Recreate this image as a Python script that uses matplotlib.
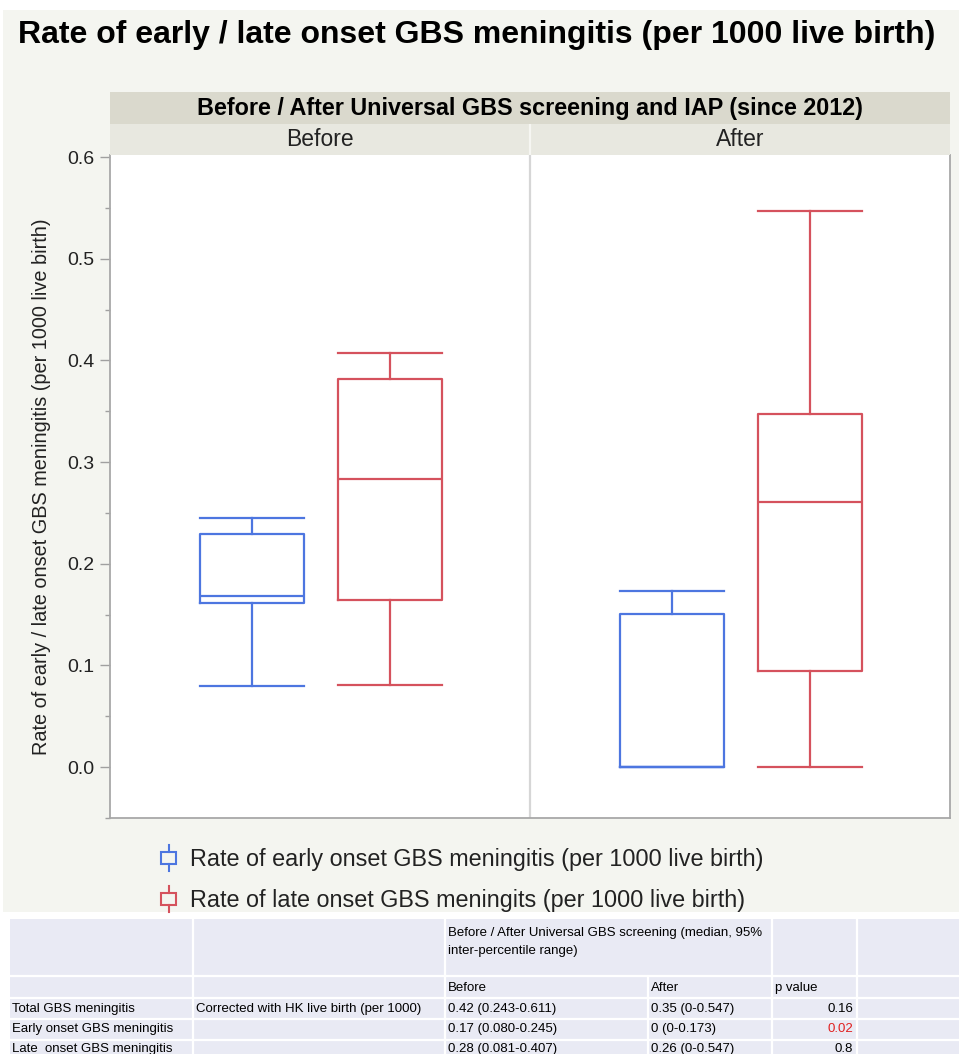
import matplotlib
matplotlib.use("Agg")
import matplotlib.pyplot as plt
from matplotlib.patches import Rectangle
from matplotlib.lines import Line2D
from matplotlib.legend_handler import HandlerBase
from matplotlib.ticker import MultipleLocator, FormatStrFormatter

# ---- data ----
periods = ["Before", "After"]
early_whislo = [0.080, 0.0]
early_q1 = [0.161, 0.0]
early_med = [0.168, 0.0]
early_q3 = [0.229, 0.151]
early_whishi = [0.245, 0.173]

late_whislo = [0.081, 0.0]
late_q1 = [0.164, 0.094]
late_med = [0.283, 0.261]
late_q3 = [0.382, 0.347]
late_whishi = [0.407, 0.547]

legend_labels = ["Rate of early onset GBS meningitis (per 1000 live birth)",
                 "Rate of late onset GBS meningits (per 1000 live birth)"]

row_names = ["Total GBS meningitis", "Early onset GBS meningitis", "Late  onset GBS meningitis"]
method_txt = ["Corrected with HK live birth (per 1000)", "", ""]
before_txt = ["0.42 (0.243-0.611)", "0.17 (0.080-0.245)", "0.28 (0.081-0.407)"]
after_txt = ["0.35 (0-0.547)", "0 (0-0.173)", "0.26 (0-0.547)"]
p_values = [0.16, 0.02, 0.8]
p_labels = ["0.16", "0.02", "0.8"]

BLUE = "#4d76e0"
RED = "#d5525d"
plt.rcParams["font.family"] = ["Liberation Sans", "DejaVu Sans"]

W, H = 959, 1054
fig = plt.figure(figsize=(W / 100, H / 100), dpi=100)
fig.patch.set_facecolor("white")

def fx(x):
    return x / W

def fy(y):
    return 1 - y / H

# light panel behind the chart
fig.add_artist(Rectangle((fx(3), fy(912)), 1, (912 - 10) / H, transform=fig.transFigure,
                         facecolor="#f4f5f0", edgecolor="none", zorder=0))

fig.text(fx(18), fy(35), "Rate of early / late onset GBS meningitis (per 1000 live birth)",
         ha="left", va="center", fontsize=23, fontweight="bold")

# ---- main plot ----
ax = fig.add_axes([fx(110), fy(818), 840 / W, (818 - 155) / H])
ax.set_facecolor("white")
ax.set_xlim(0, 2)
ax.set_ylim(-0.0501, 0.602)

def stats(lo, q1, med, q3, hi):
    return [dict(whislo=a, q1=b, med=c, q3=d, whishi=e)
            for a, b, c, d, e in zip(lo, q1, med, q3, hi)]

bw = 0.248
for st, pos, col in [
    (stats(early_whislo, early_q1, early_med, early_q3, early_whishi), [0.338, 1.338], BLUE),
    (stats(late_whislo, late_q1, late_med, late_q3, late_whishi), [0.667, 1.667], RED),
]:
    lp = dict(color=col, linewidth=1.6)
    ax.bxp(st, positions=pos, widths=bw, capwidths=bw, showfliers=False, manage_ticks=False,
           boxprops=lp, whiskerprops=lp, capprops=lp, medianprops=lp)

ax.axvline(1, color="#d6d6d6", linewidth=1.6, zorder=0)

ax.yaxis.set_major_locator(MultipleLocator(0.1))
ax.yaxis.set_minor_locator(MultipleLocator(0.05))
ax.yaxis.set_major_formatter(FormatStrFormatter("%.1f"))
ax.set_xticks([])
ax.tick_params(axis="y", which="major", length=7, width=1, color="#a0a0a0",
               labelsize=14, labelcolor="#222222", pad=4)
ax.tick_params(axis="y", which="minor", length=3.5, width=1, color="#a0a0a0")
for s in ["left", "bottom", "right"]:
    ax.spines[s].set_color("#a8a8a8")
    ax.spines[s].set_linewidth(1.3)
ax.spines["top"].set_visible(False)

fig.text(fx(42), fy(487), "Rate of early / late onset GBS meningitis (per 1000 live birth)",
         rotation=90, ha="center", va="center", fontsize=14.3, color="#222222")

# ---- facet strips ----
s1 = fig.add_axes([fx(110), fy(124), 840 / W, 32 / H])
s1.set_facecolor("#dad9cd")
s1.set_xticks([]); s1.set_yticks([])
for s in s1.spines.values():
    s.set_visible(False)
s1.text(0.5, 0.47, "Before / After Universal GBS screening and IAP (since 2012)",
        ha="center", va="center", fontsize=16.8, fontweight="bold", transform=s1.transAxes)

s2 = fig.add_axes([fx(110), fy(155), 840 / W, 31 / H])
s2.set_facecolor("#e8e8e0")
s2.set_xlim(0, 2); s2.set_ylim(0, 1)
s2.set_xticks([]); s2.set_yticks([])
for s in s2.spines.values():
    s.set_visible(False)
s2.axvline(1, color="#f6f6f2", linewidth=1.6)
for i, p in enumerate(periods):
    s2.text(i + 0.5, 0.5, p, ha="center", va="center", fontsize=16.5, color="#222222")

# ---- legend with box icons ----
class BoxIcon(HandlerBase):
    def create_artists(self, legend, orig_handle, xdescent, ydescent, width, height,
                       fontsize, trans):
        col = orig_handle.get_color()
        cx = width / 2 - xdescent
        bwid = width * 0.75
        yc = -ydescent + height / 2
        bh = height * 0.62
        y0, y1 = yc - bh / 2, yc + bh / 2
        box = Rectangle((cx - bwid / 2, y0), bwid, bh, facecolor="none",
                        edgecolor=col, linewidth=1.5, transform=trans)
        up = Line2D([cx, cx], [y1, y1 + height * 0.36], color=col, linewidth=1.5, transform=trans)
        dn = Line2D([cx, cx], [y0, y0 - height * 0.36], color=col, linewidth=1.5, transform=trans)
        return [box, up, dn]

handles = [Line2D([], [], color=BLUE), Line2D([], [], color=RED)]
fig.legend(handles, legend_labels, handler_map={Line2D: BoxIcon()}, loc="upper left",
           bbox_to_anchor=(fx(137), fy(827)), frameon=False, fontsize=16.8,
           handlelength=0.9, handleheight=0.9, handletextpad=0.45, labelspacing=0.76,
           labelcolor="#222222")

# ---- summary table ----
tax = fig.add_axes([0, 0, 1, (H - 918) / H])
tax.set_xlim(0, W)
tax.set_ylim(H, 918)
tax.axis("off")
tax.add_patch(Rectangle((10, 919), W - 10, H - 919, facecolor="#e9eaf4", edgecolor="none"))
tax.hlines([976, 998, 1019, 1040], 10, W, color="white", linewidth=1.6)
tax.vlines([193, 445, 772, 857], 919, H, color="white", linewidth=1.6)
tax.vlines([648], 976, H, color="white", linewidth=1.6)

tfs = 9.5
tax.text(448, 933, "Before / After Universal GBS screening (median, 95%", fontsize=tfs,
         va="center", ha="left")
tax.text(448, 951, "inter-percentile range)", fontsize=tfs, va="center", ha="left")
tax.text(448, 988, "Before", fontsize=tfs, va="center")
tax.text(651, 988, "After", fontsize=tfs, va="center")
tax.text(775, 988, "p value", fontsize=tfs, va="center")
row_y = [1009, 1029, 1049]
for y, name, m, b, a, pv, pl in zip(row_y, row_names, method_txt, before_txt, after_txt,
                                    p_values, p_labels):
    tax.text(12, y, name, fontsize=tfs, va="center")
    tax.text(196, y, m, fontsize=tfs, va="center")
    tax.text(448, y, b, fontsize=tfs, va="center")
    tax.text(651, y, a, fontsize=tfs, va="center")
    tax.text(853, y, pl, fontsize=tfs, va="center", ha="right",
             color="#e02020" if pv < 0.05 else "black")

fig.savefig("out.png", dpi=100)
